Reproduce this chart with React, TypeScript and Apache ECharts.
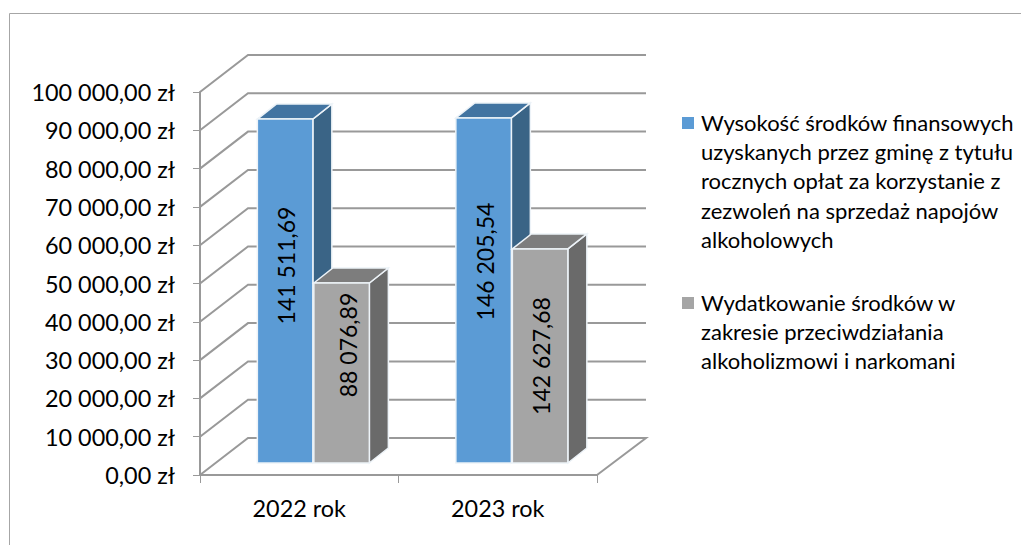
import React, { useEffect, useRef } from "react";
import * as echarts from "echarts";

const categories = ["2022 rok", "2023 rok"];
const yTickLabels = ["0,00 zł", "10 000,00 zł", "20 000,00 zł", "30 000,00 zł", "40 000,00 zł", "50 000,00 zł", "60 000,00 zł", "70 000,00 zł", "80 000,00 zł", "90 000,00 zł", "100 000,00 zł"];
const wallLevels = [0, 10000, 20000, 30000, 40000, 50000, 60000, 70000, 80000, 90000, 100000];
const blueHeights = [89800, 90100];
const grayHeights = [47000, 55900];
const blueLabels = ["141 511,69", "146 205,54"];
const grayLabels = ["88 076,89", "142 627,68"];
const legendBlue = ["Wysokość środków finansowych", "uzyskanych przez gminę z tytułu", "rocznych opłat za korzystanie z", "zezwoleń na sprzedaż napojów", "alkoholowych"];
const legendGray = ["Wydatkowanie środków w", "zakresie przeciwdziałania", "alkoholizmowi i narkomani"];

const FONT = "Lato";
const FS = 23;
const AXIS_FS = 23.4;
const LEGEND_FS = 22;
const WALL_DX = 48, WALL_DY = 37;
const BAR_BASE_DX = 15.6, BAR_BASE_DY = 12;
const BAR_W = 55.5, BAR_DX = 19, BAR_DY = 15;
const GRID_LINE = "#999999";

function barRenderer(labels: string[], offset: number, front: string, side: string, top: string, labelX: number[], labelY: number[]) {
  return (params: any, api: any) => {
    const i = api.value(0);
    const v = api.value(1);
    const base = api.coord([i, 0]);
    const tip = api.coord([i, v]);
    const xl = base[0] + BAR_BASE_DX + offset - 1;
    const xr = xl + BAR_W;
    const yb = base[1] - BAR_BASE_DY;
    const yt = tip[1] - BAR_BASE_DY;
    const stroke = { stroke: "#EDF3F8", lineWidth: 1.5 };
    return {
      type: "group",
      children: [
        { type: "polygon", shape: { points: [[xr, yb], [xr + BAR_DX, yb - BAR_DY], [xr + BAR_DX, yt - BAR_DY], [xr, yt]] }, style: { fill: side, ...stroke } },
        { type: "polygon", shape: { points: [[xl, yt], [xl + BAR_DX, yt - BAR_DY], [xr + BAR_DX, yt - BAR_DY], [xr, yt]] }, style: { fill: top, ...stroke } },
        { type: "rect", shape: { x: xl, y: yt, width: BAR_W, height: yb - yt }, style: { fill: front, ...stroke } },
        {
          type: "text",
          x: labelX[i],
          y: labelY[i],
          rotation: Math.PI / 2,
          style: { text: labels[i], fill: "#000", font: `${FS}px ${FONT}`, textAlign: "center", textVerticalAlign: "middle" },
        },
      ],
    };
  };
}

function wallRenderer(params: any, api: any) {
  const p = api.coord([0, api.value(0)]);
  const cs = params.coordSys;
  const x0 = cs.x;
  const y = p[1];
  const shape: any = { points: [[x0, y], [x0 + WALL_DX, y - WALL_DY], [x0 + cs.width + WALL_DX + 1, y - WALL_DY]] };
  if (params.dataIndex === 0) {
    shape.points.push([x0 + cs.width, y]);
  }
  return { type: "polyline", shape, style: { stroke: GRID_LINE, lineWidth: 2, fill: "none" } };
}

function legendGraphic(lines: string[], top: number, color: string) {
  const LH = 29.4;
  const items: any[] = [
    { type: "rect", shape: { x: 682, y: top - 5, width: 12, height: 12 }, style: { fill: color } },
  ];
  lines.forEach((t, i) => {
    items.push({
      type: "text",
      x: 701,
      y: top + i * LH,
      style: { text: t, fill: "#000", font: `${LEGEND_FS}px ${FONT}`, textAlign: "left", textVerticalAlign: "middle" },
    });
  });
  return items;
}

export default function App() {
  const ref = useRef<HTMLDivElement>(null);
  useEffect(() => {
    document.body.style.margin = "0";
    const chart = echarts.init(ref.current!, undefined, { renderer: "svg" });
    chart.setOption({
      animation: false,
      grid: { left: 200, right: 424, top: 92, bottom: 70, containLabel: false },
      textStyle: { fontFamily: FONT },
      xAxis: {
        type: "category",
        data: categories,
        axisLine: { lineStyle: { color: GRID_LINE, width: 2 } },
        axisTick: { show: true, length: 8, lineStyle: { color: GRID_LINE, width: 1 } },
        axisLabel: { color: "#000", fontSize: AXIS_FS, fontFamily: FONT, margin: 21 },
      },
      yAxis: {
        type: "value",
        min: 0,
        max: 100000,
        interval: 10000,
        axisLine: { show: true, lineStyle: { color: GRID_LINE, width: 2 } },
        axisTick: { show: true, length: 7, lineStyle: { color: GRID_LINE, width: 1 } },
        splitLine: { show: false },
        axisLabel: {
          color: "#000",
          fontSize: AXIS_FS,
          fontFamily: FONT,
          margin: 25,
          formatter: (v: number) => yTickLabels[Math.round(v / 10000)],
        },
      },
      graphic: [
        { type: "line", shape: { x1: 9.5, y1: 13.5, x2: 1021, y2: 13.5 }, style: { stroke: "#A6A6A6", lineWidth: 1 } },
        { type: "line", shape: { x1: 9.5, y1: 13.5, x2: 9.5, y2: 545 }, style: { stroke: "#A6A6A6", lineWidth: 1 } },
        ...legendGraphic(legendBlue, 122, "#5B9BD5"),
        ...legendGraphic(legendGray, 302, "#A5A5A5"),
      ],
      series: [
        { type: "custom", name: "walls", silent: true, data: wallLevels.map((v) => [v]), encode: { y: 0 }, renderItem: wallRenderer, z: 1 },
        {
          type: "custom",
          name: legendBlue.join(" "),
          silent: true,
          data: blueHeights.map((v, i) => [i, v]),
          encode: { x: 0, y: 1 },
          z: 2,
          renderItem: barRenderer(blueLabels, -56.5, "#5B9BD5", "#3A6486", "#4274A1", [286, 485], [265.5, 261.5]),
        },
        {
          type: "custom",
          name: legendGray.join(" "),
          silent: true,
          data: grayHeights.map((v, i) => [i, v]),
          encode: { x: 0, y: 1 },
          z: 3,
          renderItem: barRenderer(grayLabels, 0, "#A5A5A5", "#6A6A6A", "#7D7D7D", [348, 541], [345, 356]),
        },
      ],
    });
    return () => chart.dispose();
  }, []);
  return <div ref={ref} style={{ position: "absolute", left: 0, top: 0, width: 1021, height: 545 }} />;
}
